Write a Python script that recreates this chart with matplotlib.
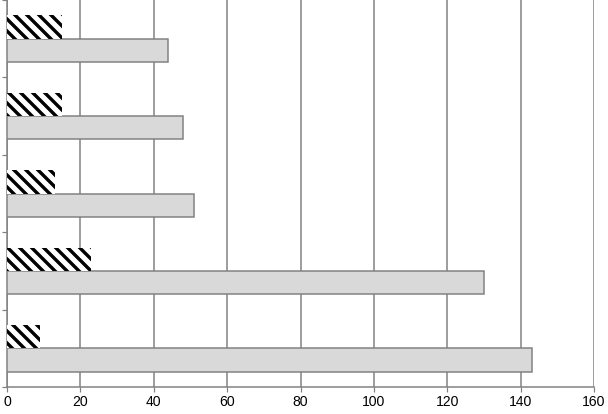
import numpy as np
import matplotlib
matplotlib.use("Agg")
from matplotlib import pyplot as plt

# values, listed from bottom group to top group
gray_vals = [143, 130, 51, 48, 44]
hatch_vals = [9, 23, 13, 15, 15]
x_ticks = [0, 20, 40, 60, 80, 100, 120, 140, 160]

plt.rcParams['font.family'] = ['Liberation Sans', 'DejaVu Sans']
plt.rcParams['hatch.linewidth'] = 3.4
plt.rcParams['hatch.color'] = 'black'

fig = plt.figure(figsize=(608 / 72, 414 / 72), dpi=72)
ax = fig.add_axes([7 / 608, 1 - 387 / 414, 587 / 608, 387 / 414])

pos = np.arange(len(gray_vals))
h = 0.30
ax.barh(pos - h / 2, gray_vals, height=h, color='#d9d9d9',
        edgecolor='#808080', linewidth=1.5, zorder=3)
ax.barh(pos + h / 2, hatch_vals, height=h, color='white',
        edgecolor='black', linewidth=0, hatch='\\\\', zorder=3)

ax.set_xlim(0, 160)
ax.set_ylim(-0.5, len(gray_vals) - 0.5)
ax.set_xticks(x_ticks)
ax.set_yticks(np.arange(-0.5, len(gray_vals), 1.0))
ax.set_yticklabels([])
ax.tick_params(axis='both', direction='out', length=5, width=1.2,
               color='#808080', labelsize=14, labelcolor='black')
ax.xaxis.grid(True, color='#808080', linewidth=1.5, zorder=0)

for side in ['top', 'right']:
    ax.spines[side].set_visible(False)
for side in ['left', 'bottom']:
    ax.spines[side].set_color('#808080')
    ax.spines[side].set_linewidth(1.5)

fig.savefig("out.png", dpi=72)
